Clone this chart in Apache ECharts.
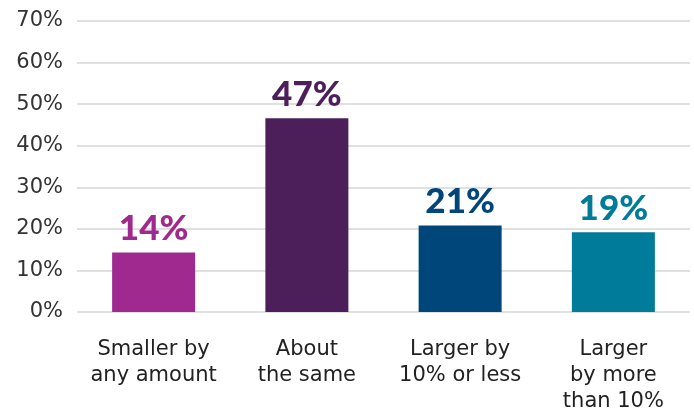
<!DOCTYPE html>
<html><head><meta charset="utf-8">
<script src="https://cdn.jsdelivr.net/npm/echarts@6/dist/echarts.min.js"></script>
<style>html,body{margin:0;padding:0;background:#fff}#c{width:694px;height:415px}</style>
</head><body><div id="c"></div>
<script>
const categories = ['Smaller by\nany amount', 'About\nthe same', 'Larger by\n10% or less', 'Larger\nby more\nthan 10%'];
const values = [14.3, 46.6, 20.8, 19.2];
const labels = ['14%', '47%', '21%', '19%'];
const colors = ['#A0298F', '#4C1F5B', '#00467A', '#007B9A'];
const yTicks = [0, 10, 20, 30, 40, 50, 60, 70];

const chart = echarts.init(document.getElementById('c'));
chart.setOption({
  animation: false,
  grid: { left: 77, right: 4, top: 21, bottom: 103, containLabel: false },
  xAxis: {
    type: 'category', data: categories,
    axisLine: { show: false }, axisTick: { show: false },
    axisLabel: { interval: 0, hideOverlap: false, fontFamily: 'DejaVu Sans', fontSize: 21, color: '#222', lineHeight: 26, margin: 25, verticalAlign: 'top' }
  },
  yAxis: {
    type: 'value', min: 0, max: 70, interval: 10,
    axisLabel: { formatter: v => v + '%', fontFamily: 'DejaVu Sans', fontSize: 21, color: '#333', margin: 14 },
    splitLine: { lineStyle: { color: '#d6d6d6', width: 1.5 } },
    axisLine: { show: false }, axisTick: { show: false }
  },
  series: [{
    type: 'bar', barWidth: 83,
    data: values.map((v, i) => ({ value: v, itemStyle: { color: colors[i] },
      label: { color: colors[i] } })),
    label: { show: true, position: 'top', distance: 6,
      formatter: p => labels[p.dataIndex],
      fontFamily: 'Lato', fontWeight: 900, fontSize: 35 }
  }]
});
</script></body></html>
